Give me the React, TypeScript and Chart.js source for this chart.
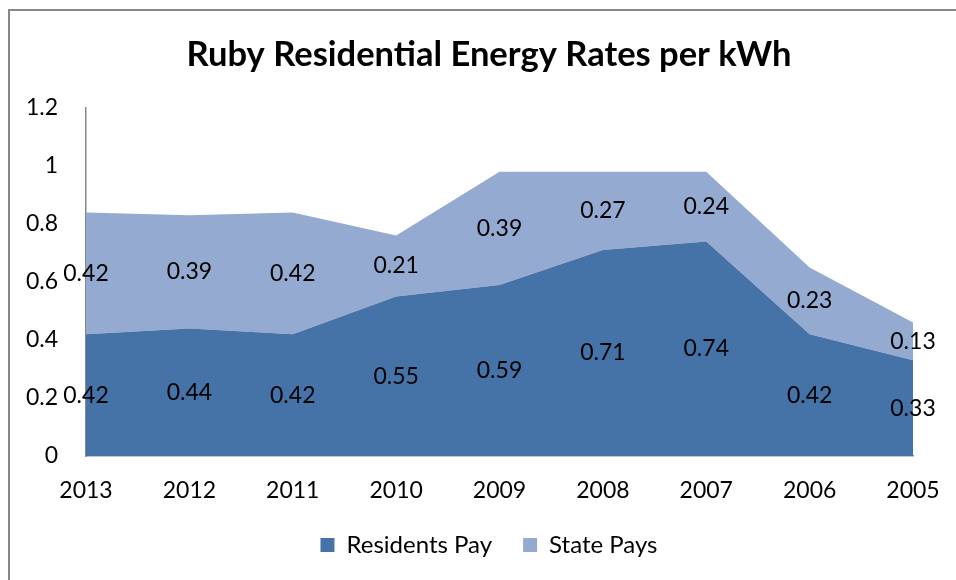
import React, { useEffect, useRef } from "react";
import { Chart, registerables } from "chart.js";

Chart.register(...registerables);

const years = ["2013", "2012", "2011", "2010", "2009", "2008", "2007", "2006", "2005"];
const residentsPay = [0.42, 0.44, 0.42, 0.55, 0.59, 0.71, 0.74, 0.42, 0.33];
const statePays = [0.42, 0.39, 0.42, 0.21, 0.39, 0.27, 0.24, 0.23, 0.13];
const yMin = 0;
const yMax = 1.2;
const yStep = 0.2;

const FONT = "Lato, 'Noto Sans', sans-serif";
const DARK = "#4572A7";
const LIGHT = "#94AAD1";
const AXIS = "#888888";

const bandLabels = {
  id: "bandLabels",
  afterDatasetsDraw(chart: any) {
    const ctx = chart.ctx;
    const yScale = chart.scales.y;
    const n = chart.data.labels.length;
    const base = new Array(n).fill(0);
    ctx.save();
    ctx.font = `23px ${FONT}`;
    ctx.fillStyle = "#000";
    ctx.textAlign = "center";
    ctx.textBaseline = "middle";
    chart.data.datasets.forEach((ds: any, di: number) => {
      const meta = chart.getDatasetMeta(di);
      ds.data.forEach((v: number, j: number) => {
        const px = meta.data[j].x;
        const py = yScale.getPixelForValue(base[j] + v / 2);
        ctx.fillText(String(v), px, py);
        base[j] += v;
      });
    });
    ctx.restore();
  },
};

export default function App() {
  const ref = useRef<HTMLCanvasElement | null>(null);

  useEffect(() => {
    if (!ref.current) return;
    const chart: any = new Chart(ref.current, {
      type: "line",
      data: {
        labels: years,
        datasets: [
          {
            label: "Residents Pay",
            data: residentsPay,
            backgroundColor: DARK,
            borderColor: DARK,
            borderWidth: 0,
            pointRadius: 0,
            fill: "origin",
            tension: 0,
          },
          {
            label: "State Pays",
            data: statePays,
            backgroundColor: LIGHT,
            borderColor: LIGHT,
            borderWidth: 0,
            pointRadius: 0,
            fill: "-1",
            tension: 0,
          },
        ],
      },
      options: {
        responsive: false,
        animation: false,
        devicePixelRatio: 1,
        layout: { padding: { left: 0, right: 0, top: 0, bottom: 13 } },
        plugins: {
          title: {
            display: true,
            text: "Ruby Residential Energy Rates per kWh",
            color: "#000",
            font: { family: FONT, size: 34.5, weight: "bold", lineHeight: 1.2 },
            padding: { top: 23, bottom: 32.6 },
          },
          legend: {
            position: "bottom",
            labels: {
              color: "#000",
              font: { family: FONT, size: 24 },
              boxWidth: 14,
              boxHeight: 14,
              padding: 31,
            },
          },
          tooltip: { enabled: false },
        },
        scales: {
          x: {
            offset: false,
            grid: { display: false, drawTicks: false },
            border: { display: true, color: AXIS, width: 1.5 },
            afterFit: (s: any) => {
              s.height = 46;
            },
            ticks: {
              color: "#000",
              font: { family: FONT, size: 23 },
              padding: 21,
              maxRotation: 0,
              autoSkip: false,
            },
          },
          y: {
            stacked: true,
            min: yMin,
            max: yMax,
            grid: { display: false, drawTicks: false },
            border: { display: true, color: AXIS, width: 1.5 },
            afterFit: (s: any) => {
              s.width = 76;
            },
            ticks: {
              stepSize: yStep,
              color: "#000",
              font: { family: FONT, size: 23 },
              padding: 28,
              callback: (v: any) => String(Number(Number(v).toFixed(1))),
            },
          },
          y2: {
            position: "right",
            display: true,
            grid: { display: false, drawTicks: false },
            border: { display: false },
            ticks: { display: false },
            afterFit: (s: any) => {
              s.width = 55;
            },
          },
        },
      },
      plugins: [bandLabels],
    });
    return () => chart.destroy();
  }, []);

  return (
    <div
      style={{
        position: "fixed",
        left: 8,
        top: 9,
        width: 960,
        height: 580,
        borderLeft: "2px solid #888",
        borderTop: "2px solid #888",
        background: "#fff",
        overflow: "hidden",
      }}
    >
      <canvas ref={ref} width={958} height={569} style={{ display: "block" }} />
    </div>
  );
}
